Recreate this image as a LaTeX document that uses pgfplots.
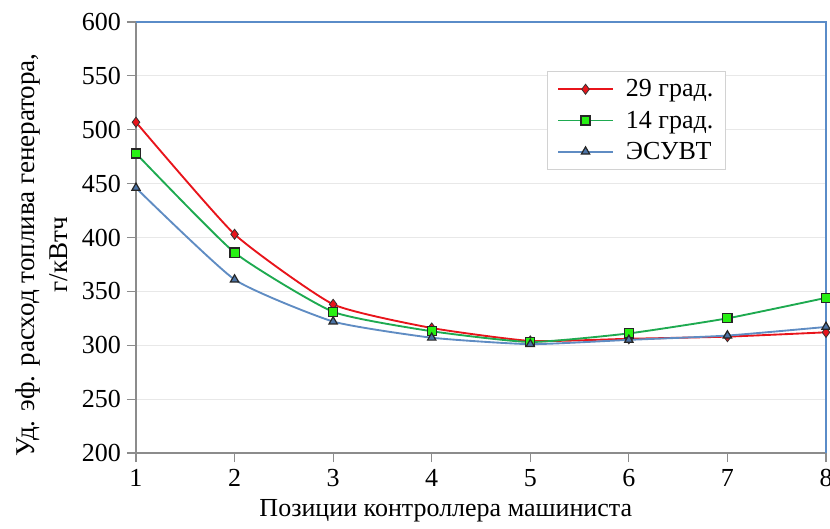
\documentclass[border=0pt]{standalone}
\usepackage{fontspec}
\setmainfont{Liberation Serif}
\usepackage{pgfplots}
\pgfplotsset{compat=1.18}
\usetikzlibrary{calc}
\definecolor{cred}{RGB}{232,20,27}
\definecolor{cgreen}{RGB}{30,170,80}
\definecolor{cgfill}{RGB}{40,240,20}
\definecolor{cblue}{RGB}{95,140,195}
\definecolor{cbfill}{RGB}{75,115,165}
\definecolor{cframe}{RGB}{90,140,200}
\definecolor{caxis}{RGB}{140,140,140}
\begin{document}
\begin{tikzpicture}
\begin{axis}[
  scale only axis,
  width=517.5pt, height=323.25pt,
  xmin=1, xmax=8, ymin=200, ymax=600,
  xtick={1,...,8}, ytick={200,250,...,600},
  axis line style={draw=none},
  tick align=outside, major tick length=6.75pt,
  xtick pos=bottom, ytick pos=left,
  tick style={caxis, line width=0.9pt},
  ymajorgrids, grid style={draw={rgb,255:red,232;green,232;blue,232}, line width=0.8pt},
  /pgf/number format/assume math mode=true,
  ticklabel style={font=\fontsize{19.5pt}{22pt}\selectfont},
  xticklabel style={yshift=-2pt},
  yticklabel style={xshift=-1pt},
  label style={font=\fontsize{20.3pt}{24.5pt}\selectfont},
  xlabel={Позиции контроллера машиниста},
  xlabel style={font=\fontsize{19.5pt}{24.5pt}\selectfont, at={(rel axis cs:0.449,0)}, anchor=north, yshift=-31pt},
  ylabel={Уд. эф. расход топлива генератора,\\г/кВтч},
  ylabel style={align=center, at={(rel axis cs:0,0.46)}, anchor=south, yshift=48pt},
  clip=false,
  legend style={at={(rel axis cs:0.596,0.886)}, anchor=north west,
    draw={rgb,255:red,210;green,210;blue,210}, line width=0.8pt,
    font=\fontsize{19.5pt}{22pt}\selectfont, row sep=5pt,
    inner xsep=7pt, inner ysep=4pt,
    /tikz/every odd column/.append style={column sep=7pt}},
  legend cell align=left,
  legend image code/.code={
    \draw[#1, mark=none] (0cm,0cm) -- (1.45cm,0cm);
    \path[#1] plot coordinates {(0.725cm,0cm)};
  },
]
\draw[caxis, line width=0.9pt] (rel axis cs:0,0) -- (rel axis cs:1,0);
\draw[caxis, line width=0.9pt] (rel axis cs:0,0) -- (rel axis cs:0,1);
\draw[cframe, line width=0.9pt] (rel axis cs:0,1) -- (rel axis cs:1,1) -- (rel axis cs:1,0);
\addplot[cred, line width=1.4pt, smooth, tension=0.3, mark=diamond*, mark size=3.8pt,
  mark options={fill=cred, draw=black!80, line width=0.6pt, solid}]
  coordinates {(1,507) (2,403) (3,338) (4,316) (5,304) (6,306) (7,308) (8,312)};
\addlegendentry{29 град.}
\addplot[cgreen, line width=1.4pt, smooth, tension=0.3, mark=square*, mark size=3.4pt,
  mark options={fill=cgfill, draw=black!85, line width=0.9pt, solid}]
  coordinates {(1,478) (2,386) (3,331) (4,313) (5,303) (6,311) (7,325) (8,344)};
\addlegendentry{14 град.}
\addplot[cblue, line width=1.4pt, smooth, tension=0.3, mark=triangle*, mark size=3.6pt,
  mark options={fill=cbfill, draw=black!85, line width=0.9pt, solid}]
  coordinates {(1,446) (2,361) (3,322) (4,307) (5,301) (6,305) (7,309) (8,317)};
\addlegendentry{ЭСУВТ}
\coordinate (bl) at (rel axis cs:0,0);
\coordinate (tr) at (rel axis cs:1,1);
\end{axis}
\pgfresetboundingbox
\path ($(bl)+(-102pt,-56.25pt)$) rectangle ($(tr)+(3pt,16.5pt)$);
\end{tikzpicture}
\end{document}
